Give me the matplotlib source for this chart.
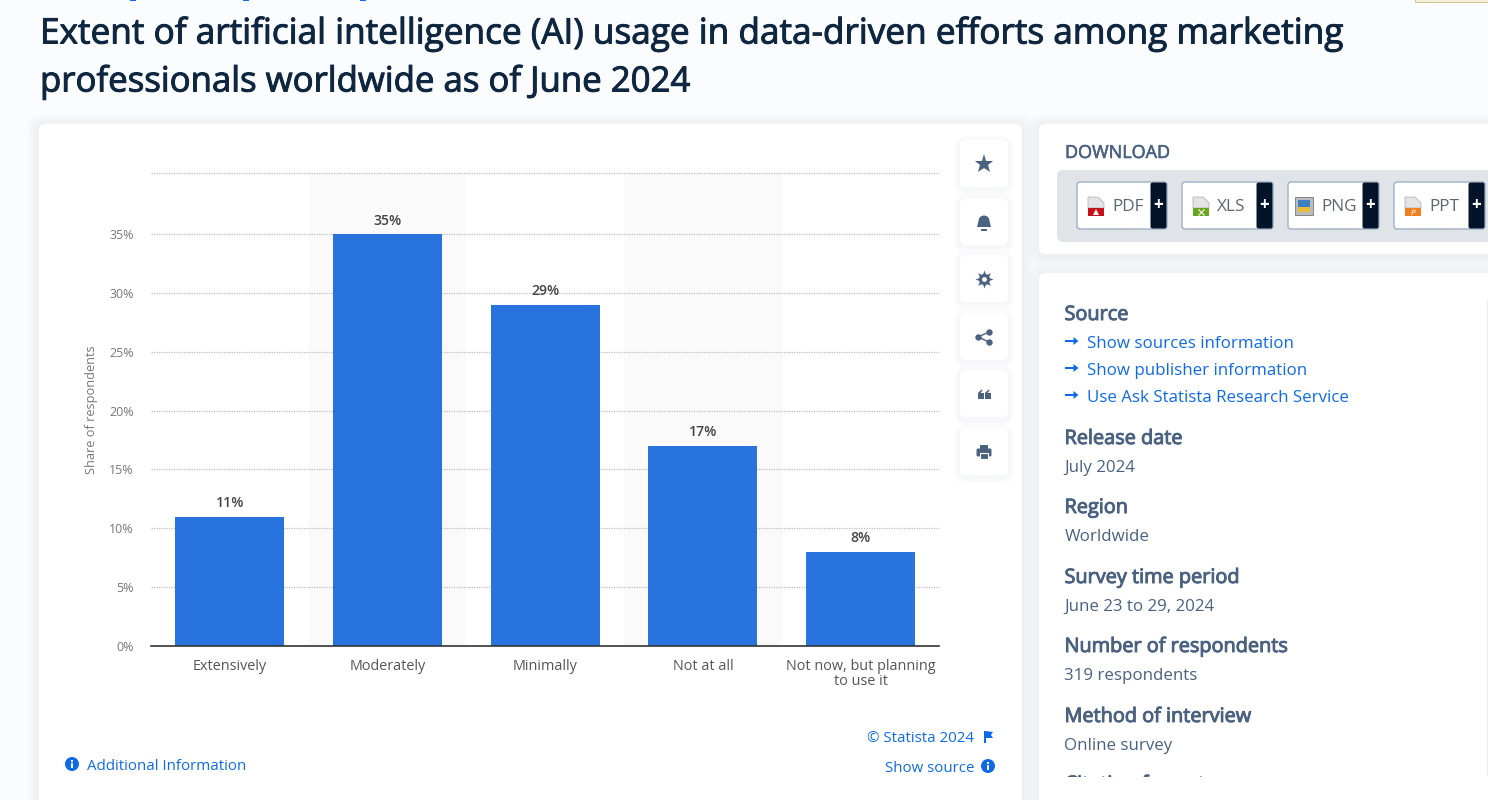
import matplotlib
matplotlib.use("Agg")
import matplotlib.pyplot as plt
import matplotlib.patheffects as pe
from matplotlib.patches import FancyBboxPatch, Rectangle, Polygon, Circle, Wedge
from matplotlib.transforms import Bbox

plt.rcParams['font.family'] = ['Open Sans', 'DejaVu Sans']

# Chart data
categories = ["Extensively", "Moderately", "Minimally", "Not at all", "Not now, but planning\nto use it"]
shares = [11, 35, 29, 17, 8]
y_ticks = [0, 5, 10, 15, 20, 25, 30, 35]

# Side panel text
title_lines = ["Extent of artificial intelligence (AI) usage in data-driven efforts among marketing",
               "professionals worldwide as of June 2024"]
source_links = ["Show sources information", "Show publisher information", "Use Ask Statista Research Service"]
details = [("Release date", "July 2024", 437, 466),
           ("Region", "Worldwide", 506, 535),
           ("Survey time period", "June 23 to 29, 2024", 576, 605),
           ("Number of respondents", "319 respondents", 645, 674),
           ("Method of interview", "Online survey", 715, 744)]
downloads = ["PDF", "XLS", "PNG", "PPT"]

W, H = 1488, 800
SLATE = "#4a6180"
BLUE = "#0f6ae8"
NAVY = "#0f2640"
BAR = "#2873dd"


def px(size):
    return size * 72 / 100


fig = plt.figure(figsize=(W / 100, H / 100), dpi=100, facecolor="#fbfcfd")

# page layer, in pixels from the top left
page = fig.add_axes([0, 0, 1, 1])
page.set_xlim(0, W)
page.set_ylim(H, 0)
page.axis("off")


def card(x, y, w, h, r=6, color="white", edge="none", lw=0, z=1, alpha=None):
    p = FancyBboxPatch((x + r, y + r), w - 2 * r, h - 2 * r, boxstyle=f"round,pad={r},rounding_size={r}",
                       fc=color, ec=edge, lw=lw, zorder=z, alpha=alpha)
    page.add_patch(p)
    return p


def shadow_card(x, y, w, h, r=6, spread=12, z=1):
    for i in range(spread, 0, -2):
        card(x - i, y - i + 2, w + 2 * i, h + 2 * i, r=r + i, color="#d9dde6", z=z, alpha=0.07)
    card(x, y, w, h, r=r, z=z + 0.1)


def ptext(x, y, s, size, color=SLATE, weight="normal", ha="left", va="center", z=5, fat=0):
    # va center sits a little high for this font
    t = page.text(x, y + 2, s, fontsize=px(size), color=color, fontweight=weight, ha=ha, va=va, zorder=z)
    if fat:
        t.set_path_effects([pe.withStroke(linewidth=fat, foreground=color)])
    return t


def arrow(x, y):
    page.add_patch(Rectangle((x, y - 1), 11, 2, fc=BLUE, zorder=5))
    page.add_patch(Polygon([(x + 9, y - 4), (x + 14, y), (x + 9, y + 4)], fc=BLUE, zorder=5))


def info(x, y):
    page.add_patch(Circle((x, y), 7, fc=BLUE, zorder=5))
    page.add_patch(Rectangle((x - 1, y - 1), 2, 5, fc="white", zorder=6))
    page.add_patch(Rectangle((x - 1, y - 4), 2, 2, fc="white", zorder=6))


# bits of the page above the cut
page.add_patch(Rectangle((1415, -1), 73, 3, fc="#f3efd8", ec="#c9c08a", lw=0.6, zorder=1))
for x in (130, 243, 360):
    page.add_patch(Rectangle((x, 0), 6, 1, fc=BLUE, zorder=1))

# title
ptext(40, 32, title_lines[0], 35.2, NAVY, fat=0.7)
ptext(40, 80, title_lines[1], 34.8, NAVY, fat=0.7)

# cards
shadow_card(39, 124, 983, 700)
shadow_card(1039, 124, 470, 130)
shadow_card(1039, 273, 470, 560)

# action buttons
button_y = [140, 198, 255, 313, 370, 428]
for y in button_y:
    shadow_card(960, y, 48, 47, spread=6, z=2)
page.plot([984], [164], marker="*", ms=14, color=SLATE, mew=0, zorder=5)
# bell
page.add_patch(Wedge((984, 221), 5.5, 180, 360, fc=SLATE, zorder=5))
page.add_patch(Polygon([(978.5, 221), (989.5, 221), (991, 227), (977, 227)], fc=SLATE, zorder=5))
page.add_patch(Rectangle((981, 229), 6, 1.5, fc=SLATE, zorder=5))
# gear
page.plot([984], [279], marker=(8, 1, 0), ms=13, color=SLATE, mew=0, zorder=5)
page.plot([984], [279], marker="o", ms=8, color=SLATE, mew=0, zorder=5)
page.plot([984], [279], marker="o", ms=3.5, color="white", mew=0, zorder=6)
# share
page.plot([989, 978, 989], [332, 337, 342], color=SLATE, lw=1, marker="o", ms=4.6, mew=0, zorder=5)
# quote
for qx in (978, 985):
    page.add_patch(Rectangle((qx, 393), 5.5, 5.5, fc=SLATE, zorder=5))
    page.add_patch(Polygon([(qx, 393), (qx + 3.5, 389.5), (qx + 4.5, 390.5), (qx + 2.5, 393)], fc=SLATE, zorder=5))
# printer
page.add_patch(FancyBboxPatch((977, 449), 14, 7, boxstyle="round,pad=0.5,rounding_size=1.5", fc=SLATE, ec="none", zorder=5))
page.add_patch(Rectangle((980, 445), 8, 4, fc=SLATE, zorder=5))
page.add_patch(Rectangle((980, 453), 8, 6, fc=SLATE, ec="white", lw=0.8, zorder=6))

# chart footer links
ptext(87, 765, "Additional Information", 15, BLUE)
info(72, 764)
ptext(974, 737, "\u00a9 Statista 2024", 15, BLUE, ha="right")
page.add_patch(Rectangle((984, 731), 1.5, 12, fc=BLUE, zorder=5))
page.add_patch(Polygon([(985, 731), (993, 732), (991, 735), (993, 738), (985, 738)], fc=BLUE, zorder=5))
ptext(974, 767, "Show source", 15, BLUE, ha="right")
info(988, 766)

# download panel
ptext(1065, 151, "DOWNLOAD", 18, SLATE, fat=0.4)
page.add_patch(FancyBboxPatch((1063, 176), 440, 60, boxstyle="round,pad=6,rounding_size=6", fc="#e0e3e7", ec="none", zorder=2))
btn_x = [1077, 1182, 1288, 1394]
btn_w = [90, 91, 91, 91]
icon_col = ["#c8101a", "#6aa51e", "#3f7fc0", "#ee7f1e"]
icon_mark = ["^", "x", "", "$P$"]
for x, w, name, col, mark in zip(btn_x, btn_w, downloads, icon_col, icon_mark):
    card(x, 182, w, 47, r=3, edge="#9db0c8", lw=1, z=3)
    page.add_patch(FancyBboxPatch((x + w - 16, 183), 15, 45, boxstyle="round,pad=0.5,rounding_size=2", fc="#03142a", ec="none", zorder=4))
    page.text(x + w - 8.5, 205, "+", fontsize=px(17), color="white", fontweight="bold", ha="center", va="center", zorder=5)
    ptext(x + 35 if name != "PNG" else x + 33, 205, name, 17.2, "#5f6670")
    # file icon
    ix = x + 11
    if name == "PNG":
        page.add_patch(Rectangle((ix - 4, 197), 18, 18, fc="#b9bcc0", ec="#777", lw=0.6, zorder=5))
        page.add_patch(Rectangle((ix - 1, 200), 12, 7, fc="#3f7fc0", zorder=6))
        page.add_patch(Rectangle((ix - 1, 207), 12, 5, fc="#e8b93a", zorder=6))
    else:
        page.add_patch(Polygon([(ix, 197), (ix + 10, 197), (ix + 16, 203), (ix + 16, 208), (ix, 208)], fc="#e4e4e6", ec="#aaa", lw=0.5, zorder=5))
        page.add_patch(Rectangle((ix, 208), 16, 8, fc=col, zorder=5))
        page.plot([ix + 8], [212], marker=mark, ms=4, mew=0.8 if mark == "x" else 0, color="white", zorder=6)

# source panel
ptext(1064.5, 313, "Source", 19.9, SLATE, fat=0.7)
for y, s in zip([342, 369, 396], source_links):
    ptext(1087, y, s, 16.85, BLUE)
    arrow(1064.5, y - 1)
for head, val, y1, y2 in details:
    ptext(1064.5, y1, head, 19.9, SLATE, fat=0.7)
    ptext(1064.5, y2, val, 16.85, SLATE)
# panel text is cut off by the scroll area
cut = ptext(1064.5, 783, "Citation formats", 19.9, SLATE, fat=0.7)
cut.set_clip_box(Bbox([[1000, 800 - 777], [1488, 800]]))
cut.set_clip_on(True)
page.plot([1487, 1487], [300, 775], color="#eceef2", lw=1, zorder=4)

# chart layer
y0, y35 = 646, 234
unit = (y0 - y35) / 35
top_val = (y0 - 173) / unit
left, right = 151, 939.4
ax = fig.add_axes([left / W, 1 - y0 / H, (right - left) / W, (y0 - 173) / H])
ax.patch.set_alpha(0)
ax.set_zorder(2)
page.set_zorder(1)
ax.set_xlim(-0.5, 4.5)
ax.set_ylim(0, top_val)
for i in range(len(shares)):
    if i % 2 == 1:
        ax.axvspan(i - 0.5, i + 0.5, color="#fafafa", lw=0, zorder=0)
for t in y_ticks[1:] + [top_val]:
    ax.axhline(t, color="#bdbdbd", lw=0.9, ls=(0, (1, 1)), zorder=1, clip_on=False)
ax.bar(range(len(shares)), shares, width=0.69, color=BAR, zorder=2)
for i, v in enumerate(shares):
    ax.text(i, v + 0.55, f"{v}%", ha="center", va="bottom", fontsize=px(14), color="#444444", fontweight=600)
ax.set_xticks(range(len(categories)))
ax.set_xticklabels(categories, fontsize=px(14.4), color="#555555", linespacing=0.95)
ax.set_yticks(y_ticks)
ax.set_yticklabels([f"{t}%" for t in y_ticks], fontsize=px(12.5), color="#777777")
ax.tick_params(length=0, axis="both")
ax.tick_params(axis="x", pad=9.5)
ax.tick_params(axis="y", pad=12.5)
for s in ["top", "left", "right"]:
    ax.spines[s].set_visible(False)
ax.spines["bottom"].set_color("#333333")
ax.spines["bottom"].set_linewidth(1.2)
ax.set_ylabel("Share of respondents", fontsize=px(12.7), color="#777777")
ax.yaxis.set_label_coords((98 - left) / (right - left), (646 - 410) / (646 - 173))

fig.savefig("out.png", dpi=100)
